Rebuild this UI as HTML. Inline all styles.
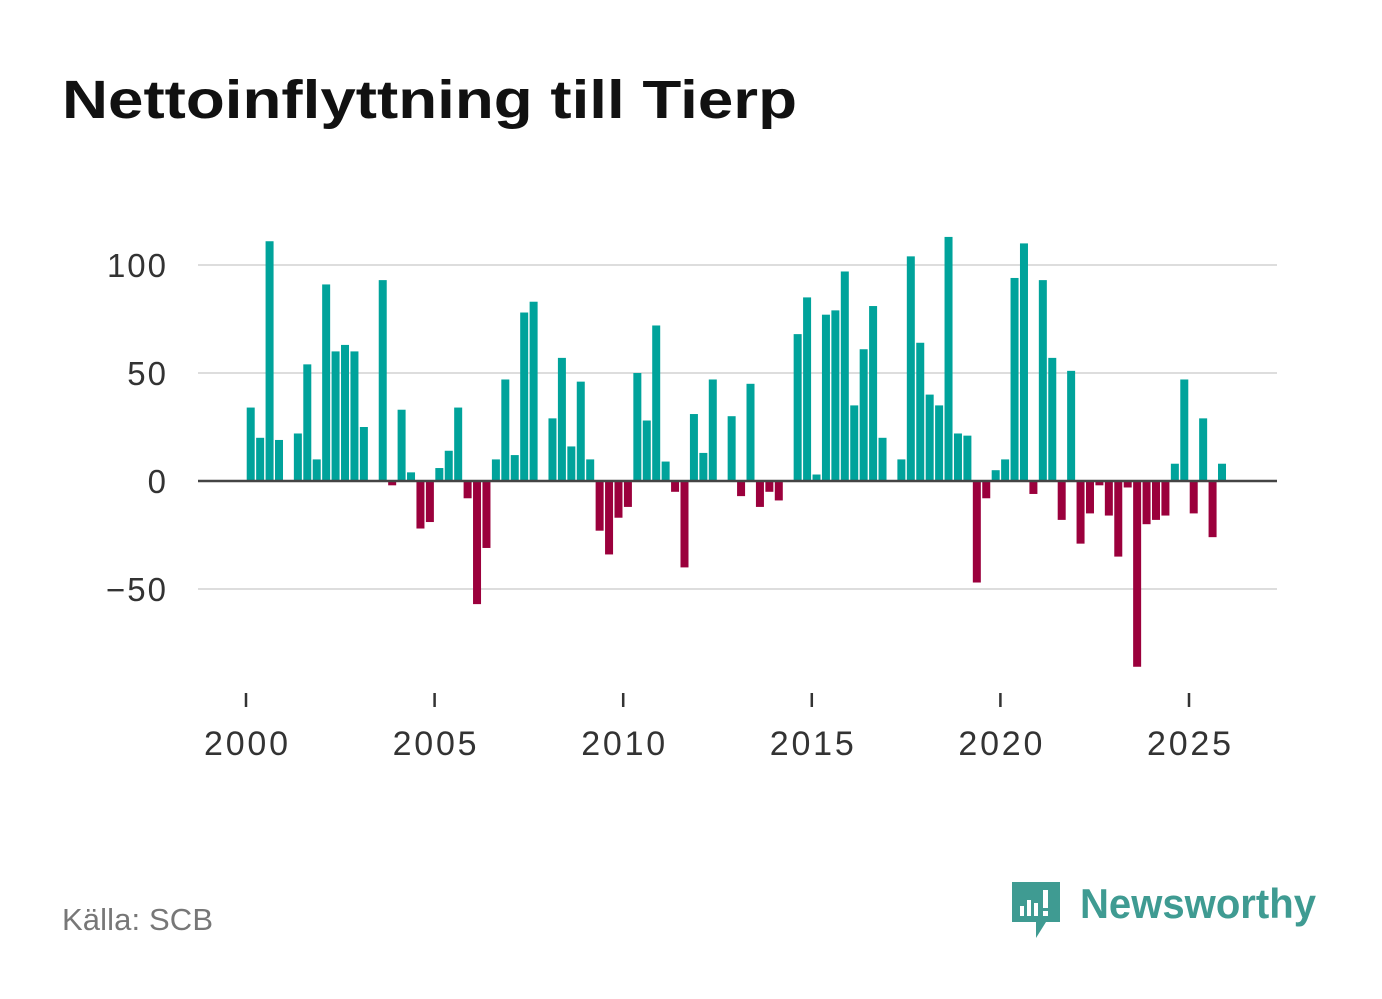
<!DOCTYPE html>
<html><head><meta charset="utf-8"><style>
body{margin:0;background:#fff;font-family:"Liberation Sans",sans-serif}
#wrap{position:relative;width:1382px;height:999px;overflow:hidden}
</style></head><body><div id="wrap">
<svg width="1382" height="999">
<text x="62" y="118" font-size="54" font-weight="bold" fill="#111" textLength="735" lengthAdjust="spacingAndGlyphs">Nettoinflyttning till Tierp</text>
<g id="grid"></g><g id="bars"></g><g id="axis"></g>
<text x="62" y="930" font-size="31" fill="#777" textLength="151">Källa: SCB</text>
<g>
<path d="M1012 882h48v40h-14l-10 16v-16h-24z" fill="#3f9b92"/>
<rect x="1020" y="906" width="4" height="10" fill="#fff"/><rect x="1027" y="900" width="4" height="16" fill="#fff"/><rect x="1034" y="903" width="4" height="13" fill="#fff"/><rect x="1043" y="890" width="5" height="18" fill="#fff"/><rect x="1043" y="911" width="5" height="5" fill="#fff"/>
<text x="1080" y="918" font-size="42" font-weight="bold" fill="#3f9b92" textLength="236" lengthAdjust="spacingAndGlyphs">Newsworthy</text></g>
</svg></div>
<script>
const years=[2000,2005,2010,2015,2020,2025];
const yTicks=[100,50,0,-50];
const yTickLabels=["100","50","0","−50"];
const startYear=2000;
const values=[34,20,111,19, 0,22,54,10, 91,60,63,60, 25,0,93,-2, 33,4,-22,-19, 6,14,34,-8, -57,-31,10,47, 12,78,83,0, 29,57,16,46, 10,-23,-34,-17, -12,50,28,72, 9,-5,-40,31, 13,47,0,30, -7,45,-12,-5, -9,0,68,85, 3,77,79,97, 35,61,81,20, 0,10,104,64, 40,35,113,22, 21,-47,-8,5, 10,94,110,-6, 93,57,-18,51, -29,-15,-2,-16, -35,-3,-86,-20, -18,-16,8,47, -15,29,-26,8];
const NS="http://www.w3.org/2000/svg";
const xs=t=>246+(t-2000)*37.72;
const ys=v=>481-v*2.16;
function mk(tag,attrs,parent){const e=document.createElementNS(NS,tag);for(const k in attrs)e.setAttribute(k,attrs[k]);parent.appendChild(e);return e;}
const grid=document.getElementById('grid'),bars=document.getElementById('bars'),axis=document.getElementById('axis');
yTicks.forEach((v,i)=>{
 if(v!==0){const l=mk('line',{x1:198,x2:1277,y1:ys(v),y2:ys(v),stroke:'#ddd','stroke-width':2},grid);
 
 }
 const t=mk('text',{x:168,y:ys(v)+12,'font-size':33,'letter-spacing':2,fill:'#333','text-anchor':'end'},axis);t.textContent=yTickLabels[i];
 
 
});
values.forEach((v,i)=>{
 if(v===0)return;
 const c=xs(startYear+(i+0.5)/4);
 const r=mk('rect',{x:c-4,width:8,y:Math.min(ys(v),ys(0)),height:Math.abs(ys(v)-ys(0)),fill:v>0?'#00a39b':'#9b003c'},bars);
 
 
});
const z=mk('line',{x1:198,x2:1277,y1:ys(0),y2:ys(0),stroke:'#444','stroke-width':2.5},axis);


years.forEach(y=>{
 const tk=mk('line',{x1:xs(y),x2:xs(y),y1:693,y2:707,stroke:'#333','stroke-width':2.5},axis);
 
 
 const t=mk('text',{x:xs(y),y:755,'font-size':34,fill:'#333','text-anchor':'middle',textLength:84},axis);t.textContent=y;
 
 
});
</script></body></html>
